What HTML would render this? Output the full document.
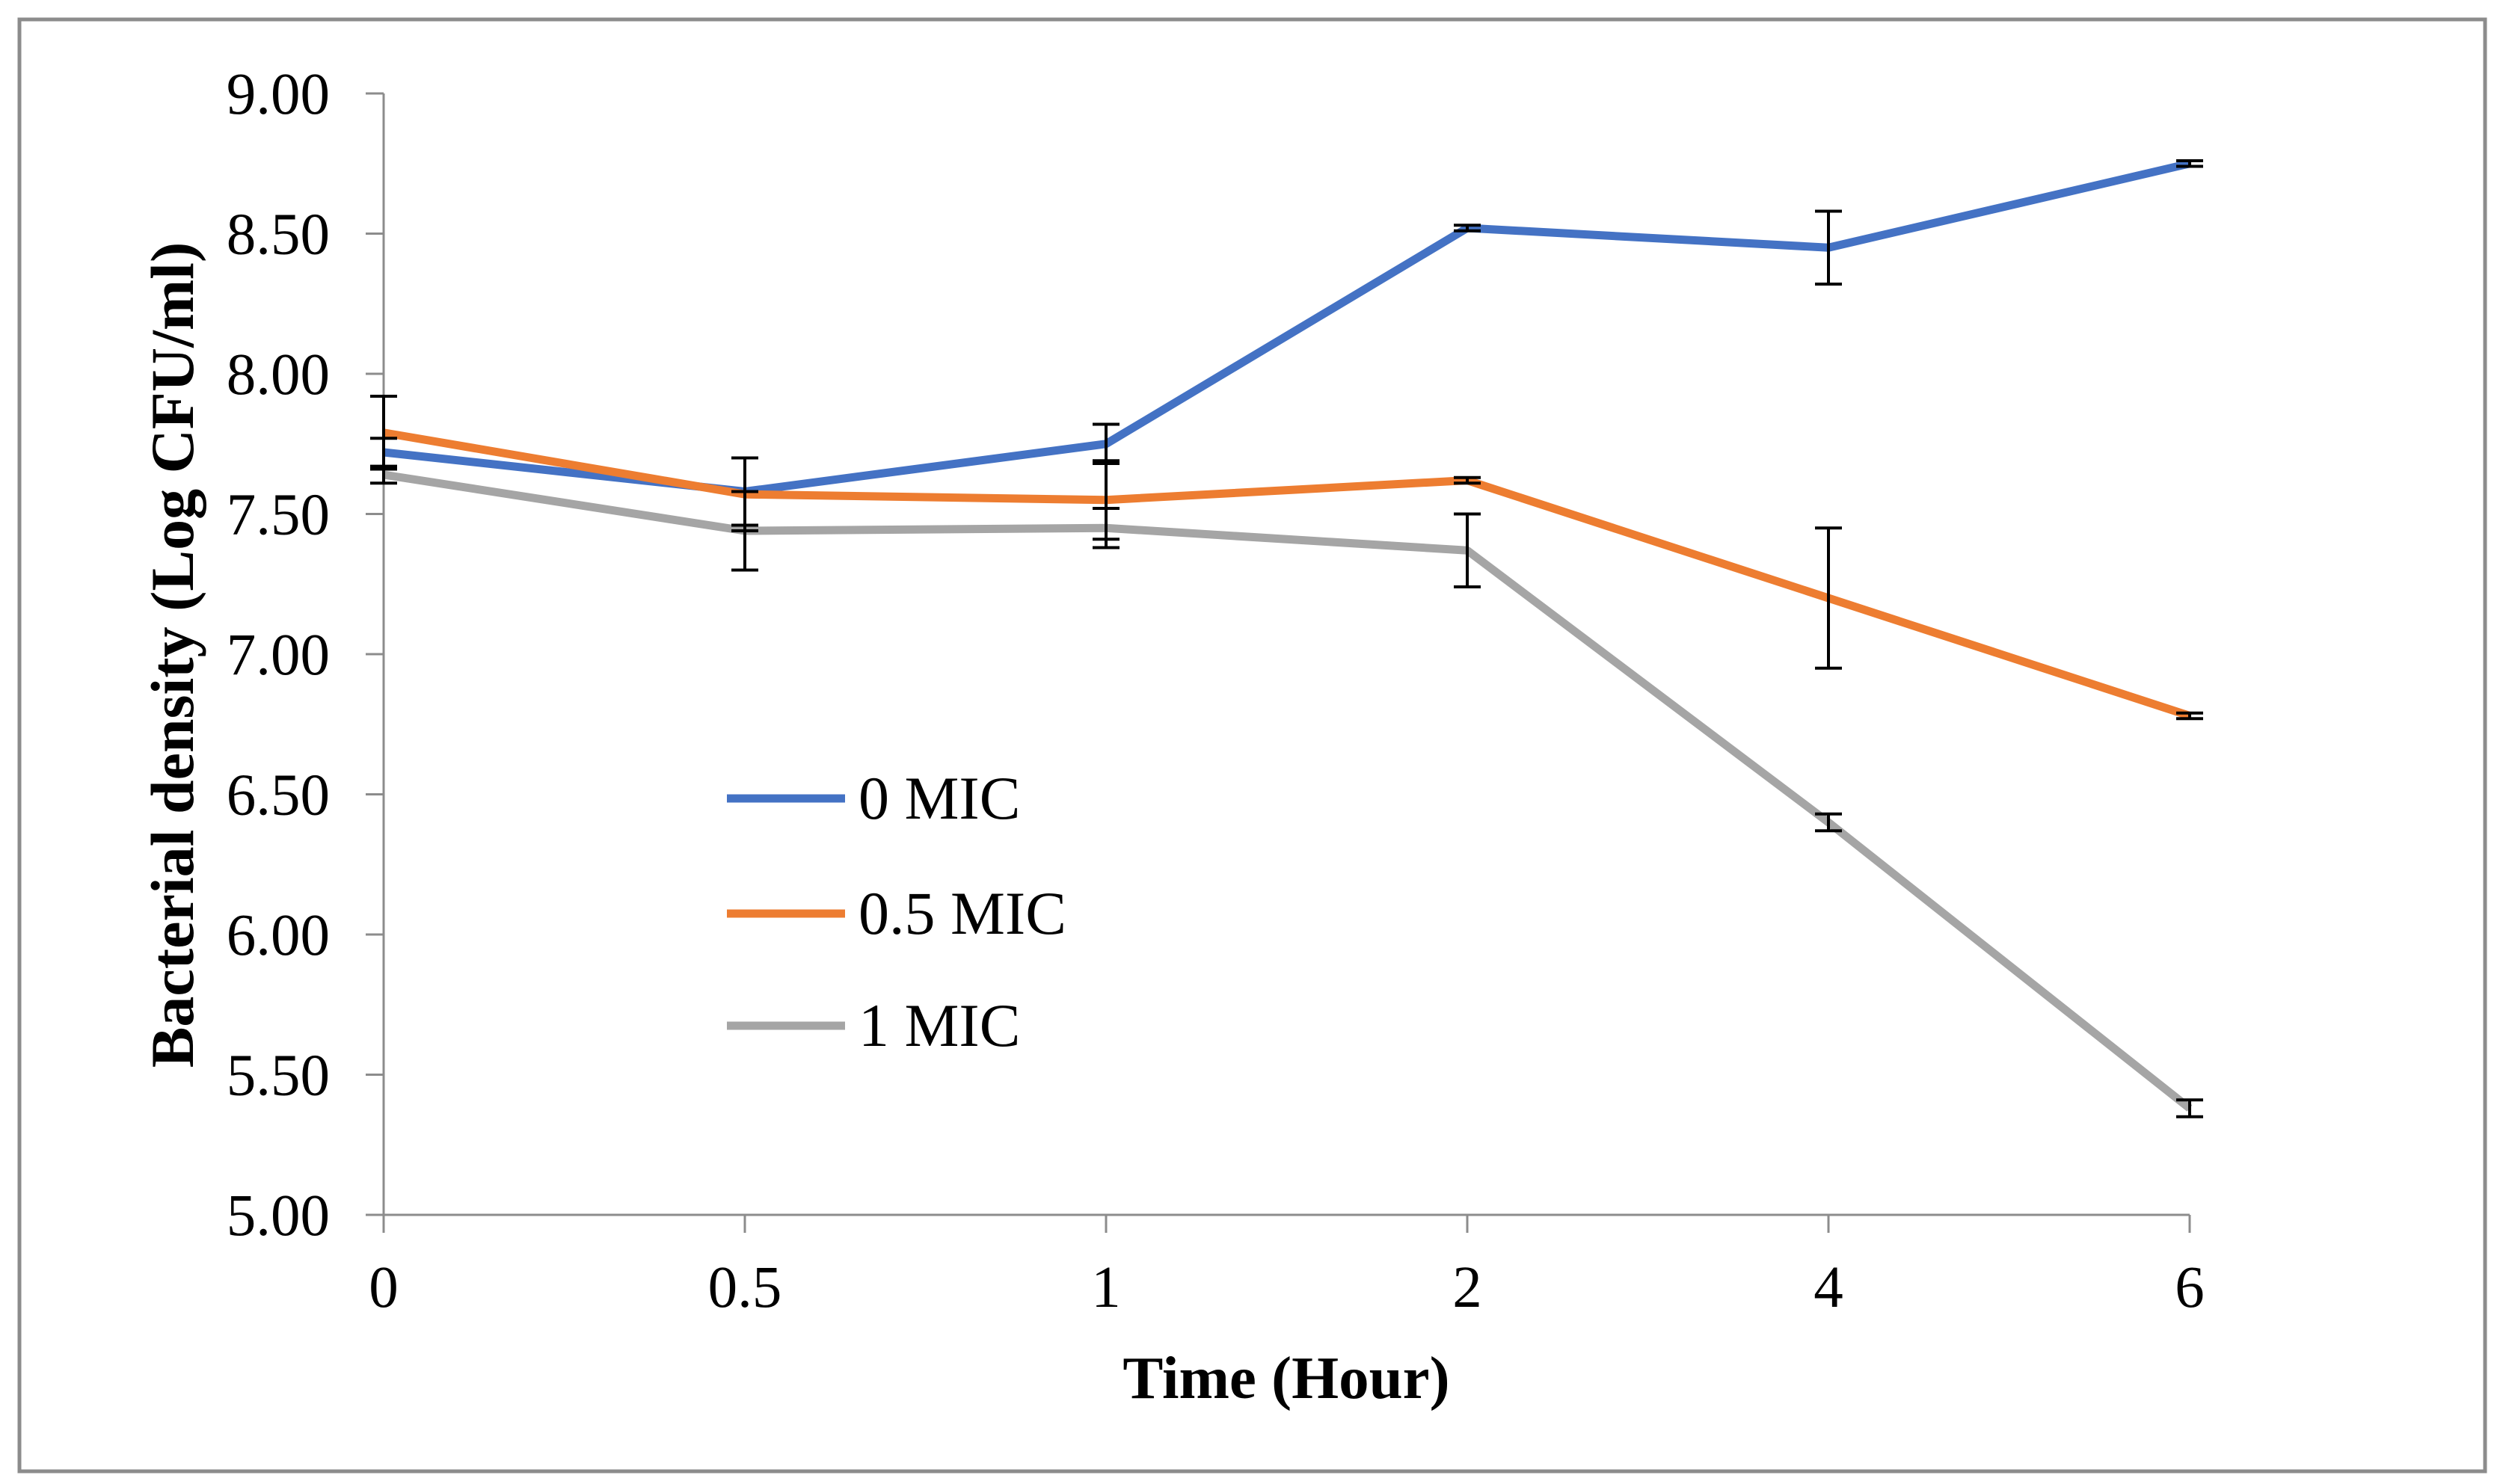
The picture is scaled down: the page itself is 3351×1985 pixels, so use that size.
<!DOCTYPE html>
<html><head><meta charset="utf-8"><style>
html,body{margin:0;padding:0;background:#fff}
svg{display:block}
text{font-family:"Liberation Serif",serif;fill:#000}
</style></head><body>
<svg id="chart" width="3351" height="1985" viewBox="0 0 3351 1985" xmlns="http://www.w3.org/2000/svg">
<rect x="26" y="26" width="3297" height="1942" fill="#fff" stroke="#8c8c8c" stroke-width="5"/>
<g id="axes"></g>
<g id="series"></g>
<text x="1720" y="1870" text-anchor="middle" font-size="81" font-weight="bold">Time (Hour)</text>
<text transform="translate(258,876) rotate(-90)" text-anchor="middle" font-size="82" font-weight="bold">Bacterial density (Log CFU/ml)</text>
<g id="legend"></g>
</svg>
<script>
const categories = ["0","0.5","1","2","4","6"];
const yTicks = [5,5.5,6,6.5,7,7.5,8,8.5,9];
const seriesNames = ["0 MIC","0.5 MIC","1 MIC"];
const seriesColors = ["#4472c4","#ed7d31","#a5a5a5"];
const mic0 = [7.72,7.58,7.75,8.52,8.45,8.75];
const mic05 = [7.79,7.57,7.55,7.62,7.20,6.78];
const mic1 = [7.64,7.44,7.45,7.37,6.40,5.38];
const err0 = [0.05,0.12,0.07,0.01,0.13,0.01];
const err05 = [0.13,0.13,0.14,0.01,0.25,0.01];
const err1 = [0.03,0.14,0.07,0.13,0.03,0.03];
const seriesValues = [mic0,mic05,mic1];
const seriesErrors = [err0,err05,err1];

const NS="http://www.w3.org/2000/svg";
const X0=513, XSTEP=483, YTOP=125, YBOT=1625, YMIN=5, YMAX=9;
function xPos(i){return X0+i*XSTEP;}
function yPos(v){return YBOT-(v-YMIN)/(YMAX-YMIN)*(YBOT-YTOP);}
function mk(tag,attrs,parent){const e=document.createElementNS(NS,tag);for(const k in attrs)e.setAttribute(k,attrs[k]);parent.appendChild(e);return e;}
const axes=document.getElementById('axes');
const ya=mk('line',{x1:X0,y1:YTOP,x2:X0,y2:YBOT,stroke:'#8c8c8c','stroke-width':3},axes);


const xa=mk('line',{x1:X0,y1:YBOT,x2:xPos(categories.length-1),y2:YBOT,stroke:'#8c8c8c','stroke-width':3},axes);


yTicks.forEach(v=>{
  const y=yPos(v);
  const t=mk('line',{x1:X0-24,y1:y,x2:X0,y2:y,stroke:'#8c8c8c','stroke-width':3},axes);
  
  
  const l=mk('text',{x:441,y:y+27,'text-anchor':'end','font-size':79},axes);
  l.textContent=v.toFixed(2);
  
  
});
categories.forEach((c,i)=>{
  const x=xPos(i);
  const t=mk('line',{x1:x,y1:YBOT,x2:x,y2:YBOT+24,stroke:'#8c8c8c','stroke-width':3},axes);
  
  
  const l=mk('text',{x:x,y:1748,'text-anchor':'middle','font-size':79},axes);
  l.textContent=c;
  
  
});
const sg=document.getElementById('series');
seriesValues.forEach((vals,s)=>{
  const pts=vals.map((v,i)=>xPos(i)+','+yPos(v)).join(' ');
  const pl=mk('polyline',{points:pts,fill:'none',stroke:seriesColors[s],'stroke-width':11,'stroke-linejoin':'round'},sg);
  
  
});
seriesValues.forEach((vals,s)=>{
  vals.forEach((v,i)=>{
    const e=seriesErrors[s][i], x=xPos(i), y1=yPos(v+e), y2=yPos(v-e);
    const g=mk('g',{stroke:'#000','stroke-width':4},sg);
    
    
    mk('line',{x1:x,y1:y1,x2:x,y2:y2},g);
    mk('line',{x1:x-18,y1:y1,x2:x+18,y2:y1},g);
    mk('line',{x1:x-18,y1:y2,x2:x+18,y2:y2},g);
  });
});
const lg=document.getElementById('legend');
const legY=[1068,1222,1372];
seriesNames.forEach((n,s)=>{
  const g=mk('g',{},lg);
  
  
  mk('line',{x1:972,y1:legY[s],x2:1130,y2:legY[s],stroke:seriesColors[s],'stroke-width':11},g);
  const t=mk('text',{x:1148,y:legY[s]+27,'font-size':82},g);
  t.textContent=n;
});
</script>
</body></html>
